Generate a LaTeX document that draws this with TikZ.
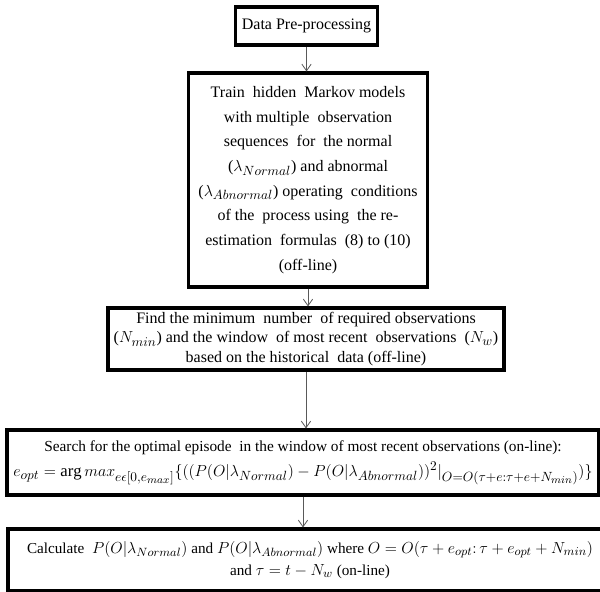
\documentclass[tikz,border=0pt]{standalone}
\usepackage{fontspec}
\setmainfont{Liberation Serif}
\DeclareMathSizes{12}{12.5}{10}{8}
\DeclareMathSizes{11.5}{12.5}{10}{8}
\DeclareMathSizes{11.4}{12}{9.5}{7.5}
\usetikzlibrary{arrows.meta}

\begin{document}
\begin{tikzpicture}[x=0.75pt,y=-0.75pt,
	box/.style={draw=black,line width=2.3pt,align=center,inner sep=2pt,font=\fontsize{12}{18.5}\selectfont},
	every edge/.style={draw=black!65,line width=0.6pt,-{Straight Barb[length=5pt,width=7pt]}}]
	\useasboundingbox (0,0) rectangle (600,592);
	\node[box,minimum width=107pt,minimum height=28.5pt] (A) at (306.5,26) {Data Pre-processing};
	\node[box,minimum width=179pt,minimum height=160.5pt] (B) at (308,180) {Train\ \ hidden\ \ Markov models\\ with multiple\ \ observation\\ sequences\ \ for\ \ the normal\\ ($\lambda_{Normal}$) and abnormal\\ ($\lambda_{Abnormal}$) operating\ \ conditions\\ of the\ \ process using\ \ the re-\\ estimation\ \ formulas\ \ (8) to (10)\\ (off-line)};
	\node[box,minimum width=297pt,minimum height=46.5pt,font=\fontsize{12}{14.8}\selectfont] (C) at (306,339) {Find the minimum\ \ number\ \ of required observations\\ ($N_{min}$) and the window\ \ of most recent\ \ observations\ \ ($N_w$)\\ based on the historical\ \ data (off-line)};
	\node[box,minimum width=444pt,minimum height=48.75pt,inner sep=1pt,font=\fontsize{11.5}{19}\selectfont] (D) at (303,462.5) {Search for the optimal episode\ \ in the window of most recent observations (on-line):\\ $e_{opt} = \arg max_{e\epsilon[0,e_{max}]}\bigl\{\bigl((P(O|\lambda_{Normal}) - P(O|\lambda_{Abnormal}))^2|_{O=O(\tau+e:\tau+e+N_{min})}\bigr)\bigr\}$};
	\node[box,minimum width=453pt,minimum height=46.5pt,font=\fontsize{11.4}{16.5}\selectfont] (E) at (310,560) {Calculate\ \ $P(O|\lambda_{Normal})$ and $P(O|\lambda_{Abnormal})$ where $O = O(\tau + e_{opt}\colon \tau + e_{opt} + N_{min})$\\ and $\tau = t - N_w$ (on-line)};

	\path (A.south) edge (A.south |- B.north);
	\path (B.south) edge (B.south |- C.north);
	\path (C.south) edge (C.south |- D.north);
	\path (D.south) edge (D.south |- E.north);
\end{tikzpicture}
\end{document}
